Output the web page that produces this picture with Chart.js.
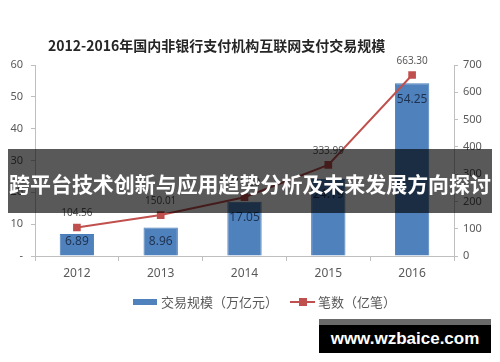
<!DOCTYPE html>
<html><head><meta charset="utf-8">
<script src="https://cdn.jsdelivr.net/npm/chart.js@4/dist/chart.umd.min.js"></script>
<style>
html,body{margin:0;padding:0;background:#fff;}
#wrap{position:relative;width:500px;height:362px;overflow:hidden;background:#fff;}
canvas{position:absolute;left:0;top:0;}
#title{position:absolute;left:48px;top:35px;font:bold 14px "Noto Sans CJK SC";color:#262626;white-space:nowrap;line-height:20px;}
.lg{position:absolute;}
.lgt{position:absolute;top:294px;font:13px "Noto Sans CJK SC";color:#595959;line-height:16px;white-space:nowrap;}
#band{position:absolute;left:8px;top:149px;width:484px;height:64px;background:rgba(0,0,0,0.65);}
#bandt{position:absolute;left:250px;top:183px;transform:translate(-50%,-50%);color:#fff;font:bold 21px "Noto Sans CJK SC";white-space:nowrap;line-height:26px;}
#wm{position:absolute;left:319px;top:319px;width:172px;height:34px;background:#000;border-top:6px solid #6a6a6a;box-sizing:border-box;color:#fff;font:bold 17px "Liberation Sans";text-align:center;line-height:28px;}
</style></head>
<body>
<div id="wrap">
<canvas id="c" width="500" height="362"></canvas>
<div id="title">2012-2016年国内非银行支付机构互联网支付交易规模</div>
<div class="lg" style="left:133px;top:299px;width:24px;height:6px;background:#4F81BD;"></div>
<div class="lgt" style="left:161px;">交易规模（万亿元）</div>
<div class="lg" style="left:290px;top:301px;width:25px;height:2px;background:#C0504D;"></div>
<div class="lg" style="left:299px;top:298px;width:8px;height:8px;background:#C0504D;"></div>
<div class="lgt" style="left:318px;">笔数（亿笔）</div>
<div id="band"></div>
<div id="bandt">跨平台技术创新与应用趋势分析及未来发展方向探讨</div>
<div id="wm">www.wzbaice.com</div>
</div>
<script>
const years = ['2012', '2013', '2014', '2015', '2016'];
const volume = [6.89, 8.96, 17.05, 24.19, 54.25];
const counts = [104.56, 150.01, 215.50, 333.99, 663.30];
const seriesNames = ['交易规模（万亿元）', '笔数（亿笔）'];

// fit banner text to ~482px wide
(function () {
  const t = document.getElementById('bandt');
  let fs = 21;
  t.style.fontSize = fs + 'px';
  const w = t.getBoundingClientRect().width;
  if (w > 0) { fs = fs * 482 / w; t.style.fontSize = fs.toFixed(2) + 'px'; }
})();

Chart.defaults.font.family = '"Noto Sans", "Noto Sans CJK SC", sans-serif';

const labelPlugin = {
  id: 'vlabels',
  afterDatasetsDraw(chart) {
    const ctx = chart.ctx;
    const barMeta = chart.getDatasetMeta(0), lineMeta = chart.getDatasetMeta(1);
    ctx.save();
    ctx.textAlign = 'center';
    ctx.textBaseline = 'middle';
    ctx.font = '12px "Noto Sans"';
    ctx.fillStyle = '#1f3350';
    barMeta.data.forEach((el, i) => {
      const y = Math.min(el.y + 16, el.base - 14);
      ctx.fillText(volume[i].toFixed(2), el.x, y);
    });
    ctx.font = '10px "Noto Sans"';
    ctx.fillStyle = '#595959';
    lineMeta.data.forEach((el, i) => ctx.fillText(counts[i].toFixed(2), el.x, el.y - 14));
    ctx.restore();
  }
};

new Chart(document.getElementById('c').getContext('2d'), {
  data: {
    labels: years,
    datasets: [
      { type: 'bar', label: seriesNames[0], data: volume, yAxisID: 'y', backgroundColor: '#4F81BD', borderColor: '#4A7EBB', borderWidth: 1, categoryPercentage: 1, barPercentage: 0.41, order: 1 },
      { type: 'line', label: seriesNames[1], data: counts, yAxisID: 'y1', borderColor: '#C0504D', borderWidth: 2, pointStyle: 'rect', pointRadius: 4, pointBackgroundColor: '#C0504D', pointBorderColor: '#C0504D', tension: 0, order: 0 }
    ]
  },
  options: {
    responsive: false, animation: false,
    layout: { padding: { top: 65, left: 0, right: 0, bottom: 0 } },
    plugins: { legend: { display: false }, tooltip: { enabled: false }, title: { display: false } },
    scales: {
      x: {
        grid: { drawOnChartArea: false, tickLength: 5, color: '#bfbfbf' },
        border: { color: '#bfbfbf' },
        ticks: { color: '#595959', font: { size: 12 }, padding: 5 },
        afterFit(s) { s.height = 106; }
      },
      y: {
        position: 'left', min: 0, max: 60,
        ticks: { stepSize: 10, color: '#595959', font: { size: 11 }, padding: 8, callback: v => v === 0 ? '-' : v },
        grid: { drawOnChartArea: false, tickLength: 4, color: '#bfbfbf' },
        border: { color: '#bfbfbf' },
        afterFit(s) { s.width = 35; }
      },
      y1: {
        position: 'right', min: 0, max: 700,
        ticks: { stepSize: 100, color: '#595959', font: { size: 11 }, padding: 5 },
        grid: { drawOnChartArea: false, tickLength: 4, color: '#bfbfbf' },
        border: { color: '#bfbfbf' },
        afterFit(s) { s.width = 46; }
      }
    }
  },
  plugins: [labelPlugin]
});
</script>
</body></html>
